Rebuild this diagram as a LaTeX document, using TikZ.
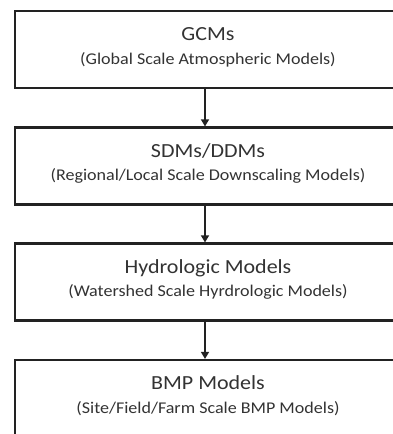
\documentclass[tikz,border=0pt]{standalone}
\usepackage{fontspec}
\setmainfont{Carlito}
\usetikzlibrary{arrows.meta}
\definecolor{ln}{HTML}{222222}
\definecolor{tx}{HTML}{333333}
\newcommand{\wide}[1]{\scalebox{1.1}[1]{#1}}
\tikzset{
  box/.style={draw=ln, line width=2.2pt, fill=white, minimum width=382pt, minimum height=77pt, inner sep=0pt},
  ttl/.style={text=tx, font=\fontsize{20}{20}\selectfont, anchor=base, inner sep=0pt},
  sub/.style={text=tx, font=\fontsize{16.4}{16.4}\selectfont, anchor=base, inner sep=0pt},
  arr/.style={draw=ln, line width=1.5pt, -{Triangle[length=7pt,width=8pt]}}
}
\begin{document}
\begin{tikzpicture}[x=1pt,y=1pt]
\useasboundingbox (0,0) rectangle (393,-434);
\clip (0,0) rectangle (393,-434);
\node[box] (b1) at (206,-49.5) {};
\node[box] (b2) at (206,-166) {};
\node[box] (b3) at (206,-282) {};
\node[box] (b4) at (206,-398.5) {};
\node[ttl] (t1) at (208,-40) {\wide{GCMs}};
\node[sub] (s1) at (208,-64) {\wide{(Global Scale Atmospheric Models)}};
\node[ttl] (t2) at (208,-157) {\wide{SDMs/DDMs}};
\node[sub] (s2) at (208,-180.5) {\wide{(Regional/Local Scale Downscaling Models)}};
\node[ttl] (t3) at (208,-273) {\wide{Hydrologic Models}};
\node[sub] (s3) at (208,-296.5) {\wide{(Watershed Scale Hyrdrologic Models)}};
\node[ttl] (t4) at (208,-389) {\wide{BMP Models}};
\node[sub] (s4) at (208,-413) {\wide{(Site/Field/Farm Scale BMP Models)}};
\draw[arr] (b1.south -| 205,0) -- (b2.north -| 205,0);
\draw[arr] (b2.south -| 205,0) -- (b3.north -| 205,0);
\draw[arr] (b3.south -| 205,0) -- (b4.north -| 205,0);
\end{tikzpicture}
\end{document}
